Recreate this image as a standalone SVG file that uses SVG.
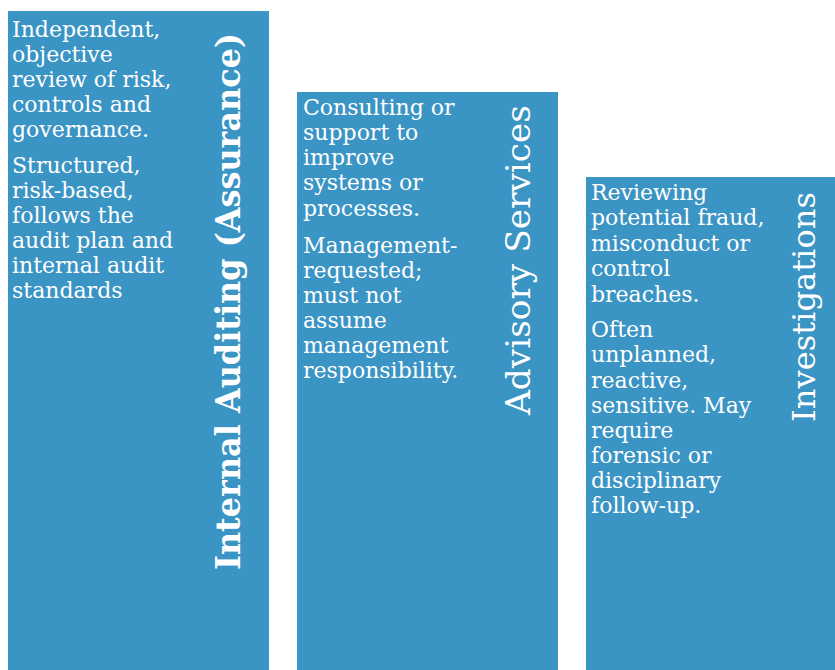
<svg xmlns="http://www.w3.org/2000/svg" width="835" height="670" viewBox="0 0 835 670">
  <style>
    .col { fill: #3A94C4; }
    .body { font-family: "DejaVu Serif", "Liberation Serif", serif; font-size: 22px; fill: #FFFFFF; }
    .title { font-family: "DejaVu Serif", "Liberation Serif", serif; fill: #FFFFFF; text-anchor: middle; }
    .bold { font-weight: bold; }
  </style>
  <rect width="835" height="670" fill="#FFFFFF"/>

  <!-- Column 1: Internal Auditing -->
  <g id="internal-auditing">
    <rect class="col" x="8" y="11" width="261" height="659"/>
    <text class="body">
      <tspan x="12" y="37">Independent,</tspan>
      <tspan x="12" y="62">objective</tspan>
      <tspan x="12" y="87">review of risk,</tspan>
      <tspan x="12" y="112">controls and</tspan>
      <tspan x="12" y="137">governance.</tspan>
      <tspan x="12" y="173">Structured,</tspan>
      <tspan x="12" y="198">risk-based,</tspan>
      <tspan x="12" y="223">follows the</tspan>
      <tspan x="12" y="248">audit plan and</tspan>
      <tspan x="12" y="273">internal audit</tspan>
      <tspan x="12" y="298">standards</tspan>
    </text>
    <text class="title bold" font-size="33" transform="translate(240,301.5) rotate(-90)" textLength="537" lengthAdjust="spacingAndGlyphs">Internal Auditing (Assurance)</text>
  </g>

  <!-- Column 2: Advisory Services -->
  <g id="advisory-services">
    <rect class="col" x="297" y="92" width="261" height="578"/>
    <text class="body">
      <tspan x="303" y="115">Consulting or</tspan>
      <tspan x="303" y="140">support to</tspan>
      <tspan x="303" y="165">improve</tspan>
      <tspan x="303" y="190">systems or</tspan>
      <tspan x="303" y="216">processes.</tspan>
      <tspan x="303" y="253">Management-</tspan>
      <tspan x="303" y="278">requested;</tspan>
      <tspan x="303" y="303">must not</tspan>
      <tspan x="303" y="328">assume</tspan>
      <tspan x="303" y="353">management</tspan>
      <tspan x="303" y="378">responsibility.</tspan>
    </text>
    <text class="title" font-size="34" transform="translate(530,260) rotate(-90)" textLength="310" lengthAdjust="spacingAndGlyphs">Advisory Services</text>
  </g>

  <!-- Column 3: Investigations -->
  <g id="investigations">
    <rect class="col" x="586" y="177" width="249" height="493"/>
    <text class="body">
      <tspan x="591" y="200">Reviewing</tspan>
      <tspan x="591" y="225">potential fraud,</tspan>
      <tspan x="591" y="251">misconduct or</tspan>
      <tspan x="591" y="276">control</tspan>
      <tspan x="591" y="302">breaches.</tspan>
      <tspan x="591" y="337">Often</tspan>
      <tspan x="591" y="362">unplanned,</tspan>
      <tspan x="591" y="388">reactive,</tspan>
      <tspan x="591" y="413">sensitive. May</tspan>
      <tspan x="591" y="438">require</tspan>
      <tspan x="591" y="463">forensic or</tspan>
      <tspan x="591" y="488">disciplinary</tspan>
      <tspan x="591" y="513">follow-up.</tspan>
    </text>
    <text class="title" font-size="31" transform="translate(815,307) rotate(-90)" textLength="230" lengthAdjust="spacingAndGlyphs">Investigations</text>
  </g>
</svg>
